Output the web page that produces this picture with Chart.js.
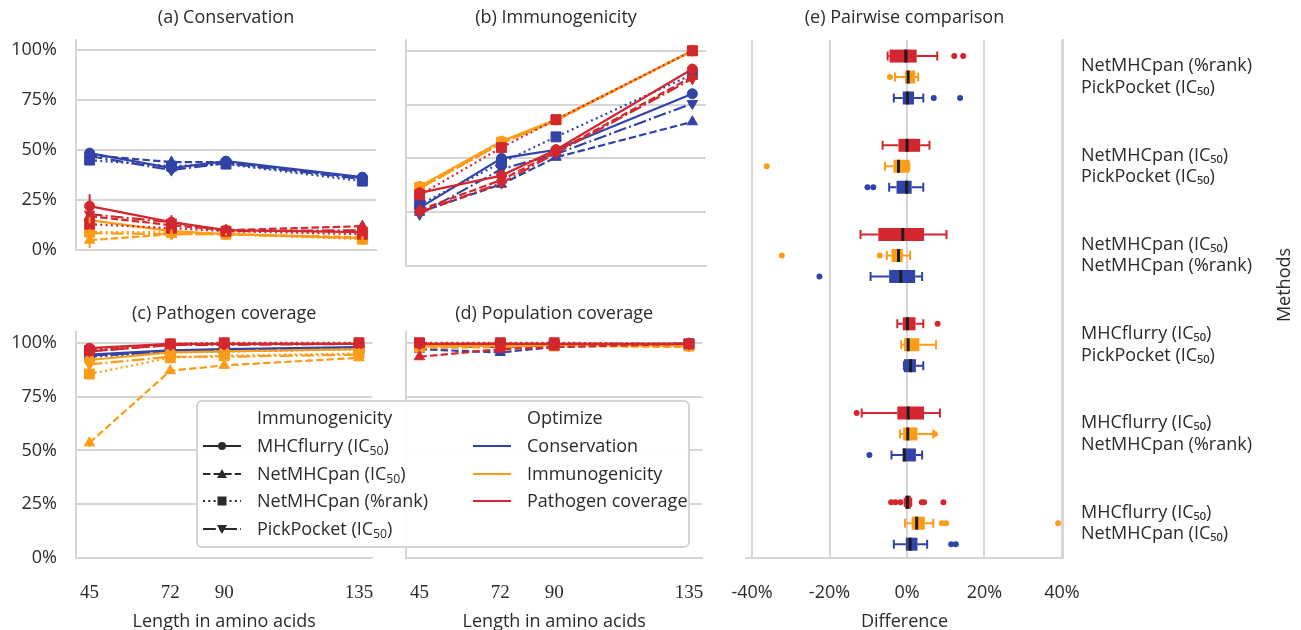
<!DOCTYPE html>
<html>
<head>
<meta charset="utf-8">
<script src="https://cdn.jsdelivr.net/npm/chart.js@4.4.0/dist/chart.umd.min.js"></script>
<style>
  body { margin: 0; background: #fff; }
  #fig { position: relative; width: 1301px; height: 630px; overflow: hidden; font-family: 'Open Sans', sans-serif; color: #2b2b2b; }
  #fig canvas { position: absolute; }
  #legend { position: absolute; left: 196px; top: 400px; width: 490px; height: 144px; border: 2px solid #d4d4d4; border-radius: 6px; background: rgba(255,255,255,0.92); }
  .lg { position: absolute; font-size: 18px; line-height: 22px; height: 22px; white-space: nowrap; }
  .lg sub { font-size: 0.68em; vertical-align: -0.22em; line-height: 0; }
  .lgs { position: absolute; }
  #methods { position: absolute; left: 1233px; top: 274px; width: 100px; height: 22px; line-height: 22px; font-size: 18px; text-align: center; transform: rotate(-90deg); }
</style>
</head>
<body>
<div id="fig">
  <canvas id="chartA" width="390" height="280" style="left:0;top:0"></canvas>
  <canvas id="chartB" width="330" height="280" style="left:390px;top:0"></canvas>
  <canvas id="chartC" width="390" height="340" style="left:0;top:290px"></canvas>
  <canvas id="chartD" width="330" height="340" style="left:390px;top:290px"></canvas>
  <canvas id="chartE" width="601" height="630" style="left:700px;top:0"></canvas>
  <div id="legend"></div>
  <div id="methods">Methods</div>
</div>
<script>
// ---- data ----
const lengths = [45, 72, 90, 135];
const methodNames = ['MHCflurry (IC₅₀)', 'NetMHCpan (IC₅₀)', 'NetMHCpan (%rank)', 'PickPocket (IC₅₀)'];
const optimizeNames = ['Conservation', 'Immunogenicity', 'Pathogen coverage'];
const percentTicks = [0, 25, 50, 75, 100];
const diffTicks = [-40, -20, 0, 20, 40];

// rows follow methodNames, columns follow lengths (values in %)
// (a) Conservation
const consByConservation = [[48.5, 41, 44.5, 36.5], [47.5, 44, 44, 36], [45, 42, 43, 34.5], [47, 40, 43.5, 35.5]];
const consByImmunogenicity = [[15, 9.5, 8, 6], [5, 8, 8, 6.5], [9, 9, 8, 5.5], [8.5, 8, 8, 6]];
const consByPathogen = [[22, 14, 10, 9], [17, 12.5, 10, 12], [13, 11, 9.5, 8], [18, 14, 9.5, 10]];
const consErrImmunogenicity = [[1.5, 1, 0.5, 0.5], [4, 1, 0.5, 0.5], [1.5, 1, 0.5, 0.5], [1, 1, 0.5, 0.5]];
const consErrPathogen = [[6, 2, 1, 1], [2, 1.5, 1, 1.5], [1.5, 1, 1, 1], [1.5, 3.5, 1, 1.5]];
// (b) Immunogenicity
const immByConservation = [[27, 50, 54, 80], [25, 38, 50.5, 67], [28.5, 48, 60, 89], [24, 45, 52, 75.5]];
const immByImmunogenicity = [[37, 58, 68, 100], [36, 57, 67.5, 100], [36.5, 57.5, 68, 100], [36, 57, 68, 100]];
const immByPathogen = [[34, 42, 54, 91.5], [26, 40, 53, 88], [33, 55, 68, 100], [25, 38.5, 52.5, 87]];
// (c) Pathogen coverage
const covByConservation = [[94.5, 96.5, 97, 98], [94, 96, 96.5, 97.5], [93.5, 95.5, 96, 97], [94, 96, 96.5, 97.5]];
const covByImmunogenicity = [[92, 95.5, 96, 97], [53.5, 87, 89.5, 93], [85.5, 93, 94, 95], [90, 93.5, 93.5, 94.5]];
const covByPathogen = [[97.5, 99.5, 99.5, 99.5], [96, 99, 99.5, 99.5], [96.5, 99.5, 100, 100], [96, 99, 99, 99.5]];
const covErrImmunogenicity = [[1, 0.5, 0.5, 0.5], [2, 1, 1, 1], [2.5, 1, 0.5, 0.5], [1.5, 1, 1, 0.5]];
// (d) Population coverage
const popByConservation = [[98.5, 98.5, 99, 99.5], [97, 95.5, 98, 99.5], [99, 98.5, 99, 99.5], [98.5, 98, 99, 99.5]];
const popByImmunogenicity = [[98.5, 98.5, 99, 98.5], [97.5, 98, 98.5, 98], [98, 98.5, 98.5, 98.5], [98.5, 98.5, 99, 98.5]];
const popByPathogen = [[99.5, 99.5, 99.5, 99.5], [93.5, 97, 98, 99.5], [100, 100, 100, 99.5], [99.5, 99.5, 99.5, 99.5]];

// (e) Pairwise comparison, one entry per pair: [whiskerLow, q1, median, q3, whiskerHigh]
const pairLabels = [
  ['NetMHCpan (%rank)', 'PickPocket (IC₅₀)'],
  ['NetMHCpan (IC₅₀)', 'PickPocket (IC₅₀)'],
  ['NetMHCpan (IC₅₀)', 'NetMHCpan (%rank)'],
  ['MHCflurry (IC₅₀)', 'PickPocket (IC₅₀)'],
  ['MHCflurry (IC₅₀)', 'NetMHCpan (%rank)'],
  ['MHCflurry (IC₅₀)', 'NetMHCpan (IC₅₀)']
];
const boxPathogen = [[-5, -4.5, -0.3, 2.5, 7.8], [-6.3, -2.2, 0, 3.4, 5.8], [-12, -7.4, -1.1, 4.4, 10.2],
  [-2.5, -1.1, 0.1, 2.2, 4.2], [-11.7, -2.5, 0.3, 4.4, 8.5], [-0.6, -0.5, 0.1, 1.0, 1.1]];
const boxImmunogenicity = [[-3.1, -0.5, 0.3, 2.1, 2.9], [-5.7, -3.5, -2.2, 0.6, 0.6], [-5.2, -4, -2.2, -1.1, 0.8],
  [-1.5, -0.8, 0.3, 3.2, 7.5], [-1.8, -1, 0.2, 2.7, 6.8], [-0.5, 1.2, 2.5, 4.6, 6.8]];
const boxConservation = [[-3.4, -1.1, 0.1, 1.8, 4.2], [-4.6, -2.7, -0.1, 1.2, 4.2], [-9.4, -4.6, -1.6, 2.1, 3.9],
  [-0.8, -0.8, 0.9, 2.3, 4.2], [-4, -1.1, -0.7, 2.3, 3.9], [-3.4, -0.3, 0.8, 2.7, 5.2]];
const outPathogen = [[12.2, 14.5], [], [], [7.9], [-13], [-4.1, -3, -1.7, 3.8, 4.4, 9.4]];
const outImmunogenicity = [[-4.4], [-36.2], [-32.3, -7], [], [7.2], [9, 10.1, 39]];
const outConservation = [[6.9, 13.7], [-10.2, -8.7], [-22.6], [], [-9.7], [11.4, 12.6]];

// ---- styling ----
const BLUE = '#3143a6', ORANGE = '#fd9c18', RED = '#d2272e';
const GRID = '#d6d6d6', TEXT = '#2b2b2b';
const SANS = "'Open Sans', sans-serif", SERIF = "'Liberation Serif', serif";
const DASHES = [[], [7.4, 3.2], [2, 3.3], [12.8, 3.2, 2, 3.2]];
const MARKERS = [
  { style: 'circle', rot: 0, r: 5 },
  { style: 'triangle', rot: 0, r: 6 },
  { style: 'rect', rot: 0, r: 7 },
  { style: 'triangle', rot: 180, r: 6 }
];

Chart.defaults.font.family = SANS;
Chart.defaults.font.size = 18;
Chart.defaults.color = TEXT;

const errorBars = {
  id: 'errorBars',
  afterDatasetsDraw(chart) {
    const { ctx, scales: { x, y } } = chart;
    chart.data.datasets.forEach(ds => {
      if (!ds.errors) return;
      ctx.save();
      ctx.strokeStyle = ds.borderColor;
      ctx.lineWidth = 2;
      ds.data.forEach((p, j) => {
        const e = ds.errors[j];
        if (!e) return;
        const px = x.getPixelForValue(p.x);
        ctx.beginPath();
        ctx.moveTo(px, y.getPixelForValue(p.y - e));
        ctx.lineTo(px, y.getPixelForValue(p.y + e));
        ctx.stroke();
      });
      ctx.restore();
    });
  }
};

function linePanel(id, title, blue, orange, red, err, cfg) {
  const groups = [[red, RED, err.red], [orange, ORANGE, err.orange], [blue, BLUE, err.blue]];
  const datasets = [];
  groups.forEach(([rows, color, errs]) => {
    rows.forEach((vals, m) => {
      datasets.push({
        data: lengths.map((x, i) => ({ x, y: vals[i] })),
        errors: errs ? errs[m] : null,
        borderColor: color, backgroundColor: color, borderWidth: 2.2,
        borderDash: DASHES[m],
        pointStyle: MARKERS[m].style, pointRotation: MARKERS[m].rot, pointRadius: MARKERS[m].r,
        pointBorderColor: color, pointBorderWidth: 1, tension: 0
      });
    });
  });
  return new Chart(document.getElementById(id), {
    type: 'line',
    data: { datasets },
    options: {
      responsive: false, animation: false, events: [],
      layout: { padding: { right: 14 } },
      plugins: {
        legend: { display: false },
        tooltip: { enabled: false },
        title: { display: true, text: title, fullSize: false, color: TEXT, font: { size: 18, weight: 'normal' }, padding: cfg.titlePad }
      },
      scales: {
        x: {
          type: 'linear', min: 40.5, max: 139.5,
          afterBuildTicks: s => { s.ticks = lengths.map(v => ({ value: v })); },
          afterFit: s => { s.height = cfg.xHeight; },
          grid: { display: false },
          border: { display: true, color: GRID, width: 2 },
          ticks: { display: cfg.showX, font: { family: SERIF, size: 19 }, padding: 16, maxRotation: 0 },
          title: { display: cfg.showX, text: 'Length in amino acids', padding: { top: 0, bottom: -3 } }
        },
        y: {
          min: 0, max: 105,
          afterBuildTicks: s => { s.ticks = percentTicks.map(v => ({ value: v })); },
          afterFit: s => { s.width = cfg.yWidth; },
          grid: { color: GRID, lineWidth: 2, drawTicks: false },
          border: { display: true, color: GRID, width: 2 },
          ticks: { display: cfg.showY, padding: 19, callback: v => v + '%' }
        }
      }
    },
    plugins: [errorBars]
  });
}

const topPad = { top: 6.8, bottom: 11.6 };
const botPad = { top: 13, bottom: 7.4 };
linePanel('chartA', '(a) Conservation', consByConservation, consByImmunogenicity, consByPathogen,
  { orange: consErrImmunogenicity, red: consErrPathogen },
  { titlePad: topPad, xHeight: 14, yWidth: 76, showX: false, showY: true });
linePanel('chartB', '(b) Immunogenicity', immByConservation, immByImmunogenicity, immByPathogen, {},
  { titlePad: topPad, xHeight: 14, yWidth: 16, showX: false, showY: false });
linePanel('chartC', '(c) Pathogen coverage', covByConservation, covByImmunogenicity, covByPathogen,
  { orange: covErrImmunogenicity },
  { titlePad: botPad, xHeight: 72, yWidth: 76, showX: true, showY: true });
linePanel('chartD', '(d) Population coverage', popByConservation, popByImmunogenicity, popByPathogen, {},
  { titlePad: botPad, xHeight: 72, yWidth: 16, showX: true, showY: false });

// ---- (e) box plots ----
const boxSets = [
  { boxes: boxPathogen, outliers: outPathogen, color: RED, offset: -0.235 },
  { boxes: boxImmunogenicity, outliers: outImmunogenicity, color: ORANGE, offset: 0 },
  { boxes: boxConservation, outliers: outConservation, color: BLUE, offset: 0.235 }
];
const BOX_H = 13, CAP_H = 9;

const boxPlot = {
  id: 'boxPlot',
  beforeDatasetsDraw(chart) {
    const { ctx, scales: { x, y } } = chart;
    ctx.save();
    boxSets.forEach(set => {
      set.boxes.forEach((b, g) => {
        const cy = y.getPixelForValue(g + set.offset);
        const [lo, q1, med, q3, hi] = b.map(v => x.getPixelForValue(v));
        ctx.strokeStyle = set.color;
        ctx.lineWidth = 2;
        ctx.beginPath();
        ctx.moveTo(lo, cy); ctx.lineTo(q1, cy);
        ctx.moveTo(q3, cy); ctx.lineTo(hi, cy);
        ctx.moveTo(lo, cy - CAP_H / 2); ctx.lineTo(lo, cy + CAP_H / 2);
        ctx.moveTo(hi, cy - CAP_H / 2); ctx.lineTo(hi, cy + CAP_H / 2);
        ctx.stroke();
        ctx.fillStyle = set.color;
        ctx.fillRect(q1, cy - BOX_H / 2, q3 - q1, BOX_H);
        ctx.strokeStyle = '#1c1c1c';
        ctx.lineWidth = 3;
        ctx.beginPath();
        ctx.moveTo(med, cy - BOX_H / 2); ctx.lineTo(med, cy + BOX_H / 2);
        ctx.stroke();
      });
    });
    ctx.restore();
  }
};

new Chart(document.getElementById('chartE'), {
  type: 'scatter',
  data: {
    datasets: boxSets.map(set => ({
      data: set.outliers.flatMap((vals, g) => vals.map(v => ({ x: v, y: g + set.offset }))),
      backgroundColor: set.color, borderWidth: 0, pointRadius: 3
    }))
  },
  options: {
    responsive: false, animation: false, events: [],
    layout: { padding: { left: 46 } },
    plugins: {
      legend: { display: false },
      tooltip: { enabled: false },
      title: { display: true, text: '(e) Pairwise comparison', fullSize: false, color: TEXT, font: { size: 18, weight: 'normal' }, padding: topPad }
    },
    scales: {
      x: {
        type: 'linear', min: -41.55, max: 40.26,
        afterBuildTicks: s => { s.ticks = diffTicks.map(v => ({ value: v })); },
        afterFit: s => { s.height = 72; },
        grid: { color: GRID, lineWidth: 2, drawTicks: false },
        border: { display: true, color: GRID, width: 2 },
        ticks: { padding: 24, maxRotation: 0, callback: v => v + '%' },
        title: { display: true, text: 'Difference', padding: { top: 0, bottom: -3 } }
      },
      y: {
        type: 'linear', position: 'right', reverse: true, min: -0.415, max: 5.39,
        afterBuildTicks: s => { s.ticks = pairLabels.map((_, i) => ({ value: i })); },
        afterFit: s => { s.width = 238; },
        grid: { display: false, drawTicks: false },
        border: { display: true, color: GRID, width: 2 },
        ticks: { padding: 18, callback: v => pairLabels[v] }
      }
    }
  },
  plugins: [boxPlot]
});

// ---- legend (HTML) ----
const fig = document.getElementById('fig');
function sub(t) { return t.replace('₅₀', '<sub>50</sub>'); }
function addText(html, left, cy) {
  const d = document.createElement('div');
  d.className = 'lg';
  d.style.left = left + 'px';
  d.style.top = (cy - 11) + 'px';
  d.innerHTML = html;
  fig.appendChild(d);
}
function markerSvg(m, color) {
  const cx = 19, cy = 8;
  if (m === 0) return `<circle cx="${cx}" cy="${cy}" r="4" fill="${color}"/>`;
  if (m === 1) return `<polygon points="${cx},${cy - 5} ${cx + 5},${cy + 4} ${cx - 5},${cy + 4}" fill="${color}"/>`;
  if (m === 2) return `<rect x="${cx - 4.5}" y="${cy - 4.5}" width="9" height="9" fill="${color}"/>`;
  return `<polygon points="${cx},${cy + 5} ${cx + 5},${cy - 4} ${cx - 5},${cy - 4}" fill="${color}"/>`;
}
function addSample(left, cy, dash, color, marker) {
  const d = document.createElement('div');
  d.className = 'lgs';
  d.style.left = left + 'px';
  d.style.top = (cy - 8) + 'px';
  d.innerHTML = `<svg width="38" height="16"><line x1="0" y1="8" x2="38" y2="8" stroke="${color}" stroke-width="2" stroke-dasharray="${dash.join(' ')}"/>${marker === null ? '' : markerSvg(marker, color)}</svg>`;
  fig.appendChild(d);
}
const rowY = [445, 473, 500, 528];
addText('Immunogenicity', 257, 417);
methodNames.forEach((name, m) => {
  addSample(203, rowY[m], DASHES[m], '#2b2b2b', m);
  addText(sub(name), 257, rowY[m]);
});
addText('Optimize', 527, 417);
[BLUE, ORANGE, RED].forEach((c, i) => {
  addSample(473, rowY[i], [], c, null);
  addText(optimizeNames[i], 527, rowY[i]);
});
</script>
</body>
</html>
